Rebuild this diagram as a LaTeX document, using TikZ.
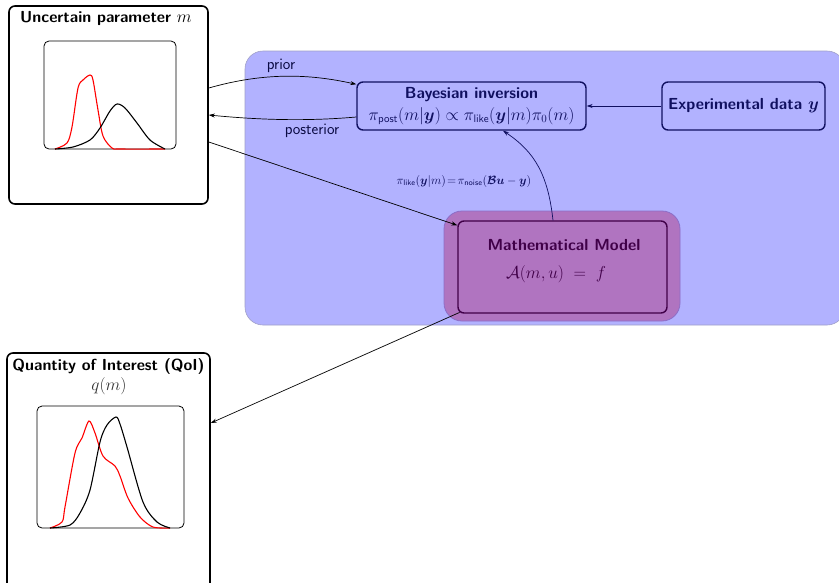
\documentclass[tikz,border=0pt]{standalone}
\usepackage{amsmath,amssymb,bm}
\usetikzlibrary{arrows.meta}
\definecolor{bgblue}{RGB}{178,178,255}
\definecolor{bgedge}{RGB}{160,160,200}
\definecolor{mopurple}{RGB}{176,116,192}
\definecolor{moedge}{RGB}{140,110,200}
\definecolor{dpurple}{RGB}{64,0,72}
\definecolor{dnavy}{RGB}{16,16,96}
\tikzset{
  bigbox/.style={draw=black,line width=1.6pt,rounded corners=6pt,minimum width=#1},
  plotbox/.style={draw=black,line width=0.8pt,rounded corners=5pt},
  navybox/.style={draw=dnavy,line width=1.4pt,rounded corners=6pt,text=dnavy,align=center},
  title/.style={font=\sffamily\bfseries\fontsize{16}{18}\selectfont,inner sep=0pt},
  arr/.style={-{Stealth[length=6pt,width=4pt]},line width=0.7pt},
  lbl/.style={font=\sffamily\fontsize{16}{18}\selectfont,inner sep=0pt},
  redc/.style={red,line width=1.1pt},
  blkc/.style={black,line width=1.1pt},
}
\begin{document}
\begin{tikzpicture}[x=1pt,y=-1pt]
\useasboundingbox (0,0) rectangle (839,582);
\clip (0,0) rectangle (839,582);
% background panel
\fill[bgblue,draw=bgedge,line width=0.6pt,rounded corners=18pt] (245,51) rectangle (845,325);
% uncertain parameter box
\node[bigbox=199pt,minimum height=198pt] (unc) at (108.5,105) {};
\node[title] (unct) at (106,18) {Uncertain parameter $m$};
\node[plotbox,minimum width=132pt,minimum height=108pt] (upl) at (110,95) {};
\draw[redc] plot[smooth,tension=0.5] coordinates {(55,149) (67,143) (72,127) (78,88) (83,80) (90,75) (93,80) (98,110) (103,136) (112,148) (120,149) (165,149)};
\draw[blkc] plot[smooth,tension=0.5] coordinates {(55,149) (73,147) (90,140) (100,128) (110,111) (117,104) (125,108) (137,123) (150,140) (165,149)};
% QoI box
\node[bigbox=203pt,minimum height=250pt] (qoi) at (108.5,478) {};
\node[title] (qoit) at (108.5,366) {Quantity of Interest (QoI)};
\node[inner sep=0pt,font=\fontsize{17}{19}\selectfont,text=black!80] (qm) at (109,386) {$q(m)$};
\node[plotbox,minimum width=147pt,minimum height=122pt] (qpl) at (110.5,467) {};
\draw[redc] plot[smooth,tension=0.5] coordinates {(50,528) (62,522) (65,507) (75,453) (82,438) (89,421) (95,433) (103,456) (115,466) (120,476) (128,498) (140,517) (153,527) (170,528)};
\draw[blkc] plot[smooth,tension=0.5] coordinates {(50,528) (70,525) (80,513) (90,490) (100,442) (107,425) (116,417) (120,424) (127,447) (143,502) (157,522) (170,528)};
% Bayesian inversion
\node[navybox,minimum width=229pt,minimum height=48pt] (bay) at (471.5,106) {};
\node[inner sep=0pt,text=dnavy,font=\sffamily\bfseries\fontsize{16}{18}\selectfont] (bayt) at (471.5,95) {Bayesian inversion};
\node[inner sep=0pt,text=dnavy,font=\fontsize{16}{18}\selectfont] (bayf) at (471.5,116) {$\pi_{\mathsf{post}}(m|\bm{y}) \propto \pi_{\mathsf{like}}(\bm{y}|m)\pi_0(m)$};
\node[navybox,minimum width=163pt,minimum height=48pt,font=\sffamily\bfseries\fontsize{16}{18}\selectfont] (exp) at (743.5,106) {Experimental data $\bm{y}$};
% Mathematical model
\node[fill=mopurple,draw=moedge,line width=0.8pt,rounded corners=18pt,minimum width=236pt,minimum height=110pt] (mo) at (562,266) {};
\node[draw=dpurple,line width=1.4pt,rounded corners=6pt,minimum width=209pt,minimum height=92pt] (mm) at (562.5,267) {};
\node[inner sep=0pt,text=dpurple,font=\sffamily\bfseries\fontsize{16}{18}\selectfont] (mmt) at (564,245) {Mathematical Model};
\node[inner sep=0pt,text=dpurple,font=\fontsize{16}{18}\selectfont] (mmf) at (556,274) {$\mathcal{A}(m,u) \;=\; f$};
% arrows
\draw[arr,black] ([yshift=17pt]unc.east) .. controls (265,72) and (310,74) .. ([yshift=-3pt]bay.north west);
\node[lbl,text=dnavy!70!black] (prl) at (281,66) {prior};
\draw[arr,black] ([yshift=-11pt]bay.west) .. controls (300,122) and (250,119) .. ([yshift=-10pt]unc.east);
\node[lbl,text=dnavy!70!black] (pol) at (312,131) {posterior};
\draw[arr,black] ([yshift=-37pt]unc.east) -- ([yshift=-5pt]mm.north west);
\draw[arr,dnavy] ([xshift=-9.5pt]mm.north) .. controls (548,175) and (535,152) .. ([xshift=31.5pt]bay.south);
\node[inner sep=0pt,text=dnavy,font=\fontsize{11.5}{13}\selectfont] (lik) at (464,181) {$\pi_{\mathsf{like}}(\bm{y}|m) \!=\! \pi_{\mathsf{noise}}(\bm{\mathcal{B}}\bm{u}-\bm{y})$};
\draw[arr,dnavy] (exp.west) -- (bay.east);
\draw[arr,black] ([xshift=16pt,yshift=9pt]mo.south west) -- ([yshift=55pt]qoi.east);
\end{tikzpicture}
\end{document}
